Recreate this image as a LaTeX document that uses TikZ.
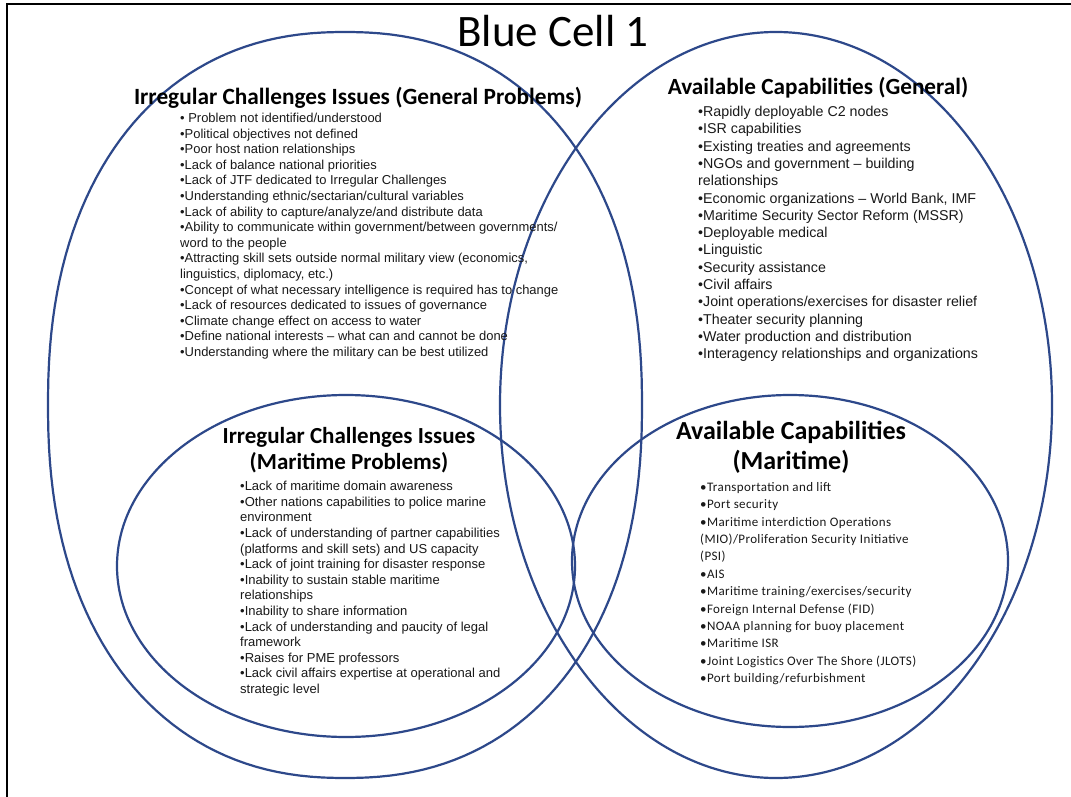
\documentclass[tikz,border=0pt]{standalone}
\usepackage{fontspec}
\setmainfont{Liberation Sans}
\newfontfamily\cali{Carlito}
\newfontfamily\calisp[LetterSpace=3]{Carlito}
\definecolor{ringblue}{RGB}{45,72,138}
\definecolor{txt}{RGB}{25,25,25}
\tikzset{
  ring/.style={draw=ringblue, line width=2.2pt},
  frameline/.style={draw=black, line width=1.6pt},
  heading/.style={inner sep=0pt, align=center, text=black, font=\cali\bfseries\fontsize{23.3}{28}\selectfont},
  listA/.style={inner sep=0pt, anchor=north west, align=left, text=txt, font=\fontsize{12.95}{15.6}\selectfont},
  listB/.style={inner sep=0pt, anchor=north west, align=left, text=txt, font=\fontsize{14.25}{17.3}\selectfont},
  listC/.style={inner sep=0pt, anchor=north west, align=left, text=txt, font=\calisp\fontsize{13}{17.4}\selectfont},
}
\begin{document}
\begin{tikzpicture}[x=1pt,y=-1pt]
\useasboundingbox (0,0) rectangle (1071,797);
\fill[white] (0,0) rectangle (1071,797);
% frame
\coordinate (fbl) at (7,800);
\coordinate (ftl) at (7,4);
\coordinate (ftr) at (1075,4);
\draw[frameline] (fbl) -- (ftl) -- (ftr);
% rings
\draw[ring] plot[domain=1:359, samples=180]
  ({345+297*cos(\x)*abs(cos(\x))^(-0.11)}, {405+373*sin(\x)*abs(sin(\x))^(-0.11)}) -- cycle;
\draw[ring] (776,405) ellipse [x radius=276, y radius=373];
\draw[ring] (346,566) ellipse [x radius=229, y radius=171];
\draw[ring] (790,561) ellipse [x radius=218, y radius=166];
% title
\node[inner sep=0pt, font=\cali\fontsize{45}{50}\selectfont] (title) at (553,31) {Blue Cell 1};
% headings
\node[heading] (h1) at (358,98) {Irregular Challenges Issues (General Problems)};
\node[heading, font=\cali\bfseries\fontsize{23.2}{28}\selectfont] (h2) at (818,88) {Available Capabilities (General)};
\node[heading, font=\cali\bfseries\fontsize{23}{26}\selectfont] (h3) at (349,450) {Irregular Challenges Issues\\(Maritime Problems)};
\node[heading, font=\cali\bfseries\fontsize{26}{30}\selectfont] (h4) at (791,447) {Available Capabilities\\(Maritime)};
% lists
\node[listA] (l1) at (180,113) {%
• Problem not identified/understood\\
•Political objectives not defined\\
•Poor host nation relationships\\
•Lack of balance national priorities\\
•Lack of JTF dedicated to Irregular Challenges\\
•Understanding ethnic/sectarian/cultural variables\\
•Lack of ability to capture/analyze/and distribute data\\
•Ability to communicate within government/between governments/\\
word to the people\\
•Attracting skill sets outside normal military view (economics,\\
linguistics, diplomacy, etc.)\\
•Concept of what necessary intelligence is required has to change\\
•Lack of resources dedicated to issues of governance\\
•Climate change effect on access to water\\
•Define national interests -- what can and cannot be done\\
•Understanding where the military can be best utilized};
\node[listB] (l2) at (698,106) {%
•Rapidly deployable C2 nodes\\
•ISR capabilities\\
•Existing treaties and agreements\\
•NGOs and government -- building\\
relationships\\
•Economic organizations -- World Bank, IMF\\
•Maritime Security Sector Reform (MSSR)\\
•Deployable medical\\
•Linguistic\\
•Security assistance\\
•Civil affairs\\
•Joint operations/exercises for disaster relief\\
•Theater security planning\\
•Water production and distribution\\
•Interagency relationships and organizations};
\node[listA, font=\fontsize{13}{15.6}\selectfont] (l3) at (240,481) {%
•Lack of maritime domain awareness\\
•Other nations capabilities to police marine\\
environment\\
•Lack of understanding of partner capabilities\\
(platforms and skill sets) and US capacity\\
•Lack of joint training for disaster response\\
•Inability to sustain stable maritime\\
relationships\\
•Inability to share information\\
•Lack of understanding and paucity of legal\\
framework\\
•Raises for PME professors\\
•Lack civil affairs expertise at operational and\\
strategic level};
\node[listC] (l4) at (700,482) {%
•Transportation and lift\\
•Port security\\
•Maritime interdiction Operations\\
(MIO)/Proliferation Security Initiative\\
(PSI)\\
•AIS\\
•Maritime training/exercises/security\\
•Foreign Internal Defense (FID)\\
•NOAA planning for buoy placement\\
•Maritime ISR\\
•Joint Logistics Over The Shore (JLOTS)\\
•Port building/refurbishment};
\end{tikzpicture}
\end{document}
